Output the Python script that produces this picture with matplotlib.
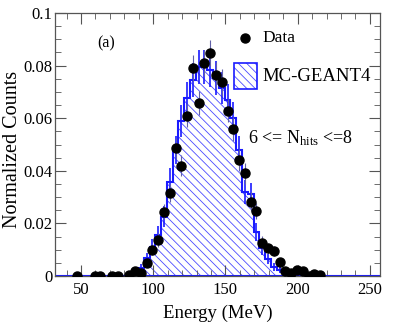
import numpy as np
import matplotlib
matplotlib.use('agg')
import matplotlib.pyplot as plt
from matplotlib.patches import Rectangle
from matplotlib.ticker import MultipleLocator

# data points (bin centres in MeV, normalized counts, errors)
data_e = [47.5, 59.5, 63.5, 71.5, 75.5, 83.5, 87.5, 91.5, 95.5, 99.5,
          103.5, 107.5, 111.5, 115.5, 119.5, 123.5, 127.5, 131.5, 135.5, 139.5,
          143.5, 147.5, 151.5, 155.5, 159.5, 163.5, 167.5, 171.5, 175.5, 179.5,
          183.5, 187.5, 191.5, 195.5, 199.5, 203.5, 207.5, 211.5, 215.5]
data_v = [0.0, 0.0, 0.0, 0.0, 0.0, 0.0004, 0.002, 0.001, 0.0048, 0.010,
          0.0137, 0.0245, 0.0315, 0.0486, 0.042, 0.061, 0.079, 0.0657, 0.081, 0.0847,
          0.0764, 0.0736, 0.0629, 0.0558, 0.0441, 0.039, 0.0283, 0.0247, 0.0127, 0.0105,
          0.0095, 0.0052, 0.0019, 0.001, 0.0023, 0.0019, 0.0, 0.0006, 0.0004]
data_err = [0.0, 0.0, 0.0, 0.0, 0.0, 0.0004, 0.001, 0.0008, 0.0015, 0.002,
            0.0025, 0.003, 0.0035, 0.004, 0.004, 0.0045, 0.005, 0.0045, 0.005, 0.005,
            0.005, 0.005, 0.0045, 0.0045, 0.004, 0.004, 0.0035, 0.003, 0.0025, 0.002,
            0.002, 0.0015, 0.001, 0.0008, 0.001, 0.001, 0.0, 0.0005, 0.0004]

# MC-GEANT4 histogram (4 MeV bins)
mc_edges = [81.5 + 4 * i for i in range(31)]
mc_v = [0.0005, 0.0015, 0.003, 0.0067, 0.011, 0.0156, 0.0226, 0.0359, 0.0479, 0.059,
        0.0677, 0.0745, 0.0796, 0.0796, 0.0783, 0.0752, 0.0714, 0.0669, 0.060, 0.0479,
        0.032, 0.031, 0.0168, 0.0105, 0.0065, 0.0035, 0.0023, 0.0012, 0.0005, 0.0002]
mc_err = [0.0005, 0.001, 0.0015, 0.002, 0.003, 0.0035, 0.004, 0.005, 0.0055, 0.006,
          0.006, 0.0065, 0.0065, 0.0065, 0.0065, 0.0065, 0.006, 0.006, 0.006, 0.0055,
          0.0045, 0.0045, 0.0035, 0.0025, 0.002, 0.0015, 0.0012, 0.001, 0.0006, 0.0004]

plt.rcParams['font.family'] = 'Liberation Serif'
plt.rcParams['mathtext.fontset'] = 'custom'
plt.rcParams['mathtext.rm'] = 'Liberation Serif'
plt.rcParams['mathtext.it'] = 'Liberation Serif:italic'
plt.rcParams['hatch.linewidth'] = 0.6

blue = '#1a1aff'
hatch_col = '#4a4aff'

fig = plt.figure(figsize=(3.99, 3.32), dpi=100)
ax = fig.add_axes([0.1378, 0.1687, 0.8146, 0.7921])

# MC histogram: hatched fill + outline + error bars
mc_centres = [0.5 * (mc_edges[i] + mc_edges[i + 1]) for i in range(len(mc_v))]
ax.stairs(mc_v, mc_edges, fill=True, facecolor='none', edgecolor=hatch_col,
          hatch='\\\\\\\\', linewidth=0)
ax.axhline(0, color=blue, lw=1.5, zorder=2)
ax.stairs(mc_v, mc_edges, color=blue, lw=1.5, baseline=None)
ax.errorbar(mc_centres, mc_v, yerr=mc_err, fmt='none', ecolor=blue, elinewidth=1.2)

# data points
ax.errorbar(data_e, data_v, yerr=data_err, fmt='o', color='black', ms=6.5,
            ecolor='#6060a8', elinewidth=0.8, zorder=5)

ax.set_xlim(32, 257)
ax.set_ylim(0, 0.1)
ax.xaxis.set_major_locator(MultipleLocator(50))
ax.xaxis.set_minor_locator(MultipleLocator(10))
ax.yaxis.set_minor_locator(MultipleLocator(0.005))
ax.set_yticks([0, 0.02, 0.04, 0.06, 0.08, 0.1])
ax.set_yticklabels(['0', '0.02', '0.04', '0.06', '0.08', '0.1'])
ax.tick_params(which='both', direction='in', top=True, right=True,
               labelsize=12, color='#555555', pad=2)
ax.tick_params(axis='x', pad=4)
ax.tick_params(which='major', length=8)
ax.tick_params(which='minor', length=4)
for s in ax.spines.values():
    s.set_linewidth(0.9)
    s.set_color('#555555')

ax.set_xlabel('Energy (MeV)', fontsize=13.5, labelpad=5)
fig.text(0.031, 0.551, 'Normalized Counts', rotation=90, fontsize=14.5,
         ha='center', va='center')

# legend drawn by hand
ax.plot([0.585], [0.905], 'o', color='black', ms=6.5, transform=ax.transAxes)
ax.text(0.637, 0.905, 'Data', transform=ax.transAxes, fontsize=12.5, va='center')
ax.add_patch(Rectangle((0.551, 0.711), 0.071, 0.099, transform=ax.transAxes,
                       facecolor='none', edgecolor=hatch_col, hatch='\\\\\\\\', lw=0))
ax.add_patch(Rectangle((0.551, 0.711), 0.071, 0.099, transform=ax.transAxes,
                       fill=False, edgecolor=blue, lw=1.2))
ax.text(0.637, 0.757, 'MC-GEANT4', transform=ax.transAxes, fontsize=13.5, va='center')
ax.text(0.594, 0.525, r'6 <= N$_{\mathrm{hits}}$ <=8', transform=ax.transAxes,
        fontsize=13, va='center')
ax.text(0.129, 0.886, '(a)', transform=ax.transAxes, fontsize=11.5, va='center')

fig.savefig('out.png', dpi=100)
